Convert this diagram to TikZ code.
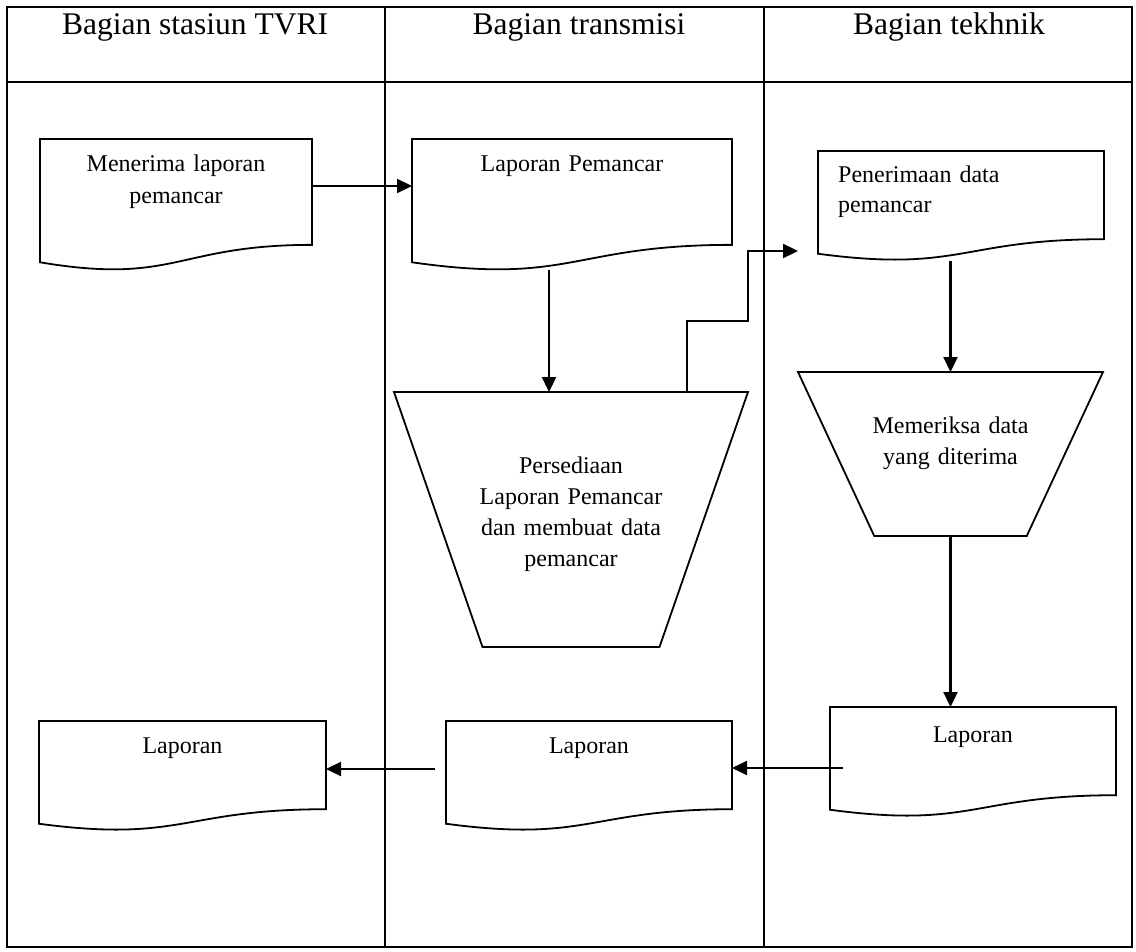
\documentclass[tikz,border=0pt]{standalone}
\usepackage{fontspec}
\setmainfont{Liberation Serif}
\usetikzlibrary{calc,arrows.meta}
\newcommand\docshape[1]{\draw[shapeline] (#1.north west) -- (#1.north east) -- ($(#1.north east)!0.802!(#1.south east)$) .. controls ($(#1.north)!0.802!(#1.south)$) and ($(#1.north)!1.1075!(#1.south)$) .. ($(#1.north west)!0.934!(#1.south west)$) -- cycle;}
\newcommand\trapshape[1]{\draw[shapeline] (#1.north west) -- (#1.north east) -- ($(#1.south east)!0.25!(#1.south west)$) -- ($(#1.south west)!0.25!(#1.south east)$) -- cycle;}
\begin{document}
\begin{tikzpicture}[x=1pt,y=-1pt,
  frame/.style={line width=2.4pt},
  lane/.style={line width=1.9pt},
  shapeline/.style={line width=1.8pt},
  arr/.style={line width=2.3pt,-{Triangle[length=15pt,width=14pt]}},
  shp/.style={draw=none,inner sep=0pt,outer sep=0pt},
  head/.style={font=\fontsize{31.5}{38}\selectfont,anchor=base,inner sep=0pt},
  txt/.style={font=\fontsize{24}{31.3}\selectfont,align=center,text width=330pt,anchor=base,inner sep=0pt},
  ltxt/.style={font=\fontsize{24}{30}\selectfont,align=left,text width=260pt,anchor=base west,inner sep=0pt}
]
\useasboundingbox (0,0) rectangle (1136,952);
% swimlane frame
\draw[frame] (7,7) rectangle (1132,947);
\draw[lane] (7,82) -- (1132,82);
\draw[lane] (385,7) -- (385,947);
\draw[lane] (764,7) -- (764,947);
\node[head] (h1) at (195,35) {Bagian stasiun TVRI};
\node[head] (h2) at (579,35) {Bagian transmisi};
\node[head] (h3) at (949,35) {Bagian tekhnik};
% shapes
\node[shp,minimum width=272pt,minimum height=132pt] (d1) at (176,205) {};
\node[shp,minimum width=320pt,minimum height=132pt] (d2) at (572,205) {};
\node[shp,minimum width=286pt,minimum height=110pt] (d3) at (961,206) {};
\node[shp,minimum width=286pt,minimum height=110pt] (d4) at (973,762) {};
\node[shp,minimum width=286pt,minimum height=110pt] (d5) at (589,776) {};
\node[shp,minimum width=287pt,minimum height=110pt] (d6) at (182.5,776) {};
\node[shp,minimum width=354pt,minimum height=255pt] (t1) at (571,519.5) {};
\node[shp,minimum width=305pt,minimum height=164pt] (t2) at (950.5,454) {};
\docshape{d1}\docshape{d2}\docshape{d3}\docshape{d4}\docshape{d5}\docshape{d6}
\trapshape{t1}\trapshape{t2}
% texts
\node[txt] (d1t) at (176,172) {Menerima laporan\\pemancar};
\node[txt] (d2t) at (572,172) {Laporan Pemancar};
\node[ltxt] (d3t) at (838,183) {Penerimaan data\\pemancar};
\node[txt] (d4t) at (973,742) {Laporan};
\node[txt] (d5t) at (589,753) {Laporan};
\node[txt] (d6t) at (182.5,753) {Laporan};
\node[txt] (t1t) at (571,473) {Persediaan\\Laporan Pemancar\\dan membuat data\\pemancar};
\node[txt] (t2t) at (950.5,433) {Memeriksa data\\yang diterima};
% connectors
\draw[arr] ($(d1.north east)+(0,47)$) -- ($(d2.north west)+(0,47)$);
\coordinate (d2b) at (549,270);
\draw[arr] (d2b) -- (d2b |- t1.north);
\draw[arr] ($(t1.north west)+(293,0)$) |- ($(t1.north east)+(0,-71)$) |- ($(d3.north west)+(-20,100)$);
\coordinate (d3b) at (950.5,261);
\draw[arr] (d3b) -- (t2.north);
\draw[arr] (t2.south) -- (t2.south |- d4.north);
\draw[arr] ($(d4.north west)+(13,61)$) -- ($(d5.north east)+(0,47)$);
\draw[arr] ($(d5.north west)+(-11,48)$) -- ($(d6.north east)+(0,48)$);
\end{tikzpicture}
\end{document}
